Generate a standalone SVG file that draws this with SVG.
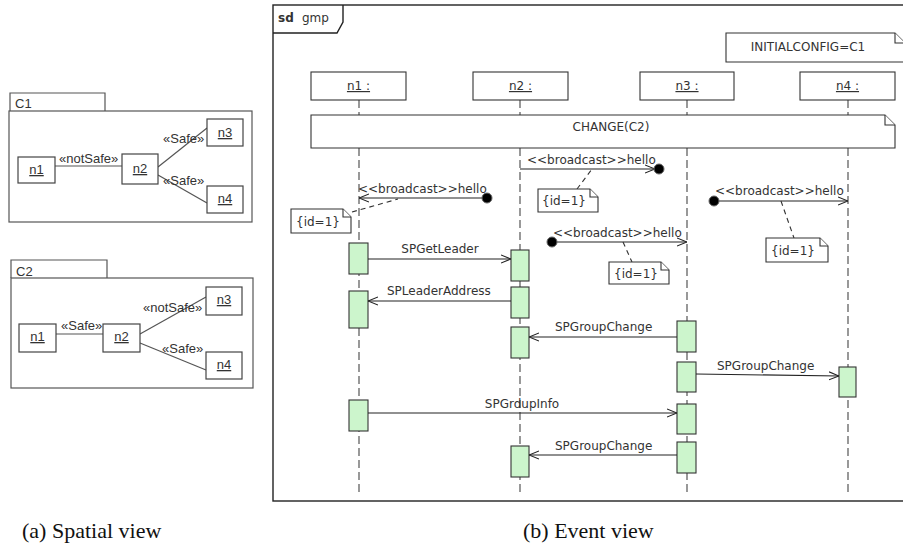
<svg xmlns="http://www.w3.org/2000/svg" width="903" height="548" viewBox="0 0 903 548">
<style>
.pkg{fill:none;stroke:#555;stroke-width:1.2}
.nbox{fill:#fff;stroke:#444;stroke-width:1.2}
.edge{stroke:#555;stroke-width:1.2;fill:none}
.lt{font-family:"Liberation Sans",Arial,sans-serif;font-size:13px;fill:#333}
.u{text-decoration:underline}
.sq{font-family:"DejaVu Sans",Verdana,sans-serif;font-size:12px;fill:#333}
.frame{fill:none;stroke:#222;stroke-width:1.4}
.head{fill:#fff;stroke:#333;stroke-width:1.1}
.life{stroke:#555;stroke-width:1.2;stroke-dasharray:8 4;fill:none}
.act{fill:#ccf5cc;stroke:#333;stroke-width:1.1}
.msg{stroke:#222;stroke-width:1.1;fill:none;marker-end:url(#open)}
.note{fill:#fff;stroke:#333;stroke-width:1.1}
.anchor{stroke:#333;stroke-width:1.1;stroke-dasharray:5 4;fill:none}
.dot{fill:#000;stroke:#666;stroke-width:1}
.cap{font-family:"Liberation Serif","Times New Roman",serif;font-size:22px;fill:#111}
</style>
<defs>
<marker id="open" viewBox="0 0 10 10" refX="10" refY="5" markerWidth="10" markerHeight="10" markerUnits="userSpaceOnUse" orient="auto">
<path d="M0,1 L10,5 L0,9" fill="none" stroke="#222" stroke-width="1.1"/>
</marker>
</defs>
<rect width="903" height="548" fill="#fff"/>

<!-- (a) Spatial view -->
<g id="C1">
<path class="pkg" d="M10,111 V93 H105 V111"/>
<rect class="pkg" x="9" y="111" width="243" height="111"/>
<text class="lt" x="15" y="108">C1</text>
<g id="C1-edges">
<line class="edge" x1="55" y1="166" x2="122" y2="166"/>
<line class="edge" x1="158" y1="167" x2="207" y2="128"/>
<line class="edge" x1="158" y1="175" x2="207" y2="203"/>
<text class="lt" x="59" y="163">«notSafe»</text>
<text class="lt" x="163" y="143">«Safe»</text>
<text class="lt" x="163" y="185">«Safe»</text>
</g>
<g id="C1-n1"><rect class="nbox" x="18" y="157" width="37" height="26"/><text class="lt u" x="36.5" y="174" text-anchor="middle">n1</text></g>
<g id="C1-n2"><rect class="nbox" x="122" y="154" width="36" height="30"/><text class="lt u" x="140" y="173" text-anchor="middle">n2</text></g>
<g id="C1-n3"><rect class="nbox" x="207" y="119" width="36" height="27"/><text class="lt u" x="225" y="137" text-anchor="middle">n3</text></g>
<g id="C1-n4"><rect class="nbox" x="207" y="186" width="36" height="27"/><text class="lt u" x="225" y="203" text-anchor="middle">n4</text></g>
</g>

<g id="C2">
<path class="pkg" d="M11,278 V260 H107 V278"/>
<rect class="pkg" x="11" y="278" width="242" height="110"/>
<text class="lt" x="16" y="276">C2</text>
<g id="C2-edges">
<line class="edge" x1="56" y1="334" x2="103" y2="334"/>
<line class="edge" x1="140" y1="334" x2="206" y2="297"/>
<line class="edge" x1="140" y1="343" x2="206" y2="370"/>
<text class="lt" x="61" y="330">«Safe»</text>
<text class="lt" x="143" y="312">«notSafe»</text>
<text class="lt" x="162" y="353">«Safe»</text>
</g>
<g id="C2-n1"><rect class="nbox" x="19" y="324" width="37" height="28"/><text class="lt u" x="37.5" y="341" text-anchor="middle">n1</text></g>
<g id="C2-n2"><rect class="nbox" x="103" y="324" width="37" height="28"/><text class="lt u" x="121.5" y="341" text-anchor="middle">n2</text></g>
<g id="C2-n3"><rect class="nbox" x="206" y="287" width="36" height="28"/><text class="lt u" x="224" y="304" text-anchor="middle">n3</text></g>
<g id="C2-n4"><rect class="nbox" x="206" y="352" width="36" height="27"/><text class="lt u" x="224" y="369" text-anchor="middle">n4</text></g>
</g>

<!-- (b) Event view -->
<g id="frame">
<rect class="frame" x="273" y="5" width="640" height="496"/>
<path class="frame" d="M273,33 H337 L343,22 V5"/>
<text class="sq" x="278" y="22" font-weight="bold">sd</text>
<text class="sq" x="302" y="22">gmp</text>
</g>

<g id="initialconfig">
<path class="note" d="M726,33 H895 L905,43 V62 H726 Z"/>
<path class="note" d="M895,33 V43 H905" fill="none"/>
<text class="sq" x="808" y="51" text-anchor="middle" font-size="11.5">INITIALCONFIG=C1</text>
</g>

<g id="lifelines">
<line class="life" x1="359" y1="100" x2="359" y2="492"/>
<line class="life" x1="520" y1="100" x2="520" y2="492"/>
<line class="life" x1="687" y1="100" x2="687" y2="492"/>
<line class="life" x1="848" y1="100" x2="848" y2="492"/>
</g>

<g id="n1"><rect class="head" x="311" y="72" width="95" height="28"/><text class="sq u" x="358.5" y="90" text-anchor="middle" font-size="13">n1 :</text></g>
<g id="n2"><rect class="head" x="473" y="72" width="95" height="28"/><text class="sq u" x="520.5" y="90" text-anchor="middle" font-size="13">n2 :</text></g>
<g id="n3"><rect class="head" x="640" y="72" width="94" height="28"/><text class="sq u" x="687" y="90" text-anchor="middle" font-size="13">n3 :</text></g>
<g id="n4"><rect class="head" x="800" y="72" width="95" height="28"/><text class="sq u" x="847.5" y="90" text-anchor="middle" font-size="13">n4 :</text></g>

<g id="change">
<path class="note" d="M311,115 H885 L895,125 V148 H311 Z"/>
<path class="note" d="M885,115 V125 H895" fill="none"/>
<text class="sq" x="611" y="131" text-anchor="middle">CHANGE(C2)</text>
</g>

<g id="activations">
<rect class="act" x="349" y="243" width="19" height="31"/>
<rect class="act" x="349" y="291" width="19" height="37"/>
<rect class="act" x="349" y="400" width="19" height="31"/>
<rect class="act" x="511" y="250" width="18" height="31"/>
<rect class="act" x="511" y="287" width="18" height="31"/>
<rect class="act" x="511" y="327" width="18" height="31"/>
<rect class="act" x="511" y="446" width="18" height="31"/>
<rect class="act" x="677" y="321" width="19" height="31"/>
<rect class="act" x="677" y="362" width="19" height="30"/>
<rect class="act" x="677" y="404" width="19" height="30"/>
<rect class="act" x="677" y="442" width="19" height="31"/>
<rect class="act" x="839" y="367" width="17" height="30"/>
</g>

<g id="connectors">
<line class="msg" x1="520" y1="169" x2="655" y2="169"/>
<circle class="dot" cx="659" cy="169" r="5"/>
<text class="sq" x="527" y="164">&lt;&lt;broadcast&gt;&gt;hello</text>
<line class="anchor" x1="577" y1="189" x2="592" y2="169"/>

<line class="msg" x1="487" y1="198" x2="359" y2="198"/>
<circle class="dot" cx="487" cy="198" r="5"/>
<text class="sq" x="358" y="193">&lt;&lt;broadcast&gt;&gt;hello</text>
<line class="anchor" x1="352" y1="212" x2="398" y2="199"/>

<line class="msg" x1="552" y1="242" x2="687" y2="242"/>
<circle class="dot" cx="552" cy="242" r="5"/>
<text class="sq" x="553" y="237">&lt;&lt;broadcast&gt;&gt;hello</text>
<line class="anchor" x1="623" y1="242" x2="632" y2="262"/>

<line class="msg" x1="714" y1="201" x2="848" y2="201"/>
<circle class="dot" cx="714" cy="201" r="5"/>
<text class="sq" x="715" y="195">&lt;&lt;broadcast&gt;&gt;hello</text>
<line class="anchor" x1="781" y1="201" x2="794" y2="238"/>

<line class="msg" x1="368" y1="259" x2="511" y2="259"/>
<text class="sq" x="440" y="253" text-anchor="middle">SPGetLeader</text>
<line class="msg" x1="511" y1="301" x2="368" y2="301"/>
<text class="sq" x="387" y="295">SPLeaderAddress</text>
<line class="msg" x1="677" y1="337" x2="529" y2="337"/>
<text class="sq" x="555" y="331">SPGroupChange</text>
<line class="msg" x1="696" y1="374" x2="839" y2="376"/>
<text class="sq" x="717" y="370">SPGroupChange</text>
<line class="msg" x1="368" y1="413" x2="677" y2="413"/>
<text class="sq" x="522" y="408" text-anchor="middle">SPGrdupInfo</text>
<line class="msg" x1="677" y1="455" x2="529" y2="455"/>
<text class="sq" x="555" y="450">SPGroupChange</text>
</g>

<g id="notes">
<g id="note1"><path class="note" d="M538,189 H590 L598,197 V212 H538 Z"/><path class="note" d="M590,189 V197 H598" fill="none"/><text class="sq" x="542" y="205" font-size="11">{id=1}</text></g>
<g id="note2"><path class="note" d="M291,209 H343 L351,217 V233 H291 Z"/><path class="note" d="M343,209 V217 H351" fill="none"/><text class="sq" x="296" y="226" font-size="11">{id=1}</text></g>
<g id="note3"><path class="note" d="M609,262 H661 L669,270 V284 H609 Z"/><path class="note" d="M661,262 V270 H669" fill="none"/><text class="sq" x="614" y="278" font-size="11">{id=1}</text></g>
<g id="note4"><path class="note" d="M766,238 H820 L828,246 V262 H766 Z"/><path class="note" d="M820,238 V246 H828" fill="none"/><text class="sq" x="771" y="255" font-size="11">{id=1}</text></g>
</g>

<text class="cap" x="22" y="538">(a) Spatial view</text>
<text class="cap" x="523" y="538">(b) Event view</text>
</svg>
